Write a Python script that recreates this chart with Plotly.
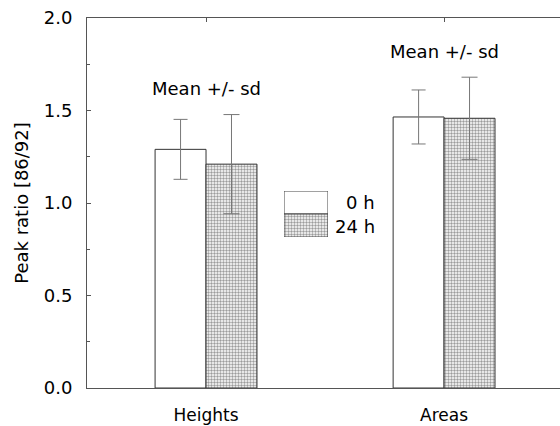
import plotly.graph_objects as go

categories = ["Heights", "Areas"]
mean_0h = [1.29, 1.465]
sd_0h = [0.162, 0.146]
mean_24h = [1.21, 1.458]
sd_24h = [0.268, 0.222]
series_names = ["0 h", "24 h"]
yticks = [0.0, 0.5, 1.0, 1.5, 2.0]
note = "Mean +/- sd"

W, H = 560, 426
L, R, T, B = 87, 0, 18, 38
FONT = "DejaVu Sans"
LINE = "#555555"
PATTERN = dict(shape=".", size=3, solidity=0.5, fgcolor="#3a3a3a", bgcolor="white")

fig = go.Figure()
fig.add_trace(go.Bar(
    x=categories, y=mean_0h, name=series_names[0],
    marker=dict(color="white", line=dict(color="#333333", width=1)),
    error_y=dict(type="data", array=sd_0h, color="#777777", thickness=1, width=7),
    showlegend=False,
))
fig.add_trace(go.Bar(
    x=categories, y=mean_24h, name=series_names[1],
    marker=dict(color="white", line=dict(color="#333333", width=1), pattern=PATTERN),
    error_y=dict(type="data", array=sd_24h, color="#777777", thickness=1, width=8),
    showlegend=False,
))
# dummy trace for top axis
fig.add_trace(go.Scatter(x=categories, y=[None, None], xaxis="x2", showlegend=False, hoverinfo="skip"))

pw = W - L - R
ph = H - T - B

def px_x(px):
    return (px - L) / pw

def px_y(py):
    return (H - B - py) / ph

# legend swatches drawn on their own small axes (one trace, two stacked boxes)
fig.add_trace(go.Bar(x=[0, 0], y=[1, 1], base=[1, 0], width=[1, 1], offset=[-0.5, -0.5],
                     xaxis="x3", yaxis="y3", cliponaxis=False,
                     marker=dict(color="white", line=dict(color="#444444", width=1),
                                 pattern=dict(shape=["", "."], size=3, solidity=0.5,
                                              fgcolor="#3a3a3a", bgcolor="white")),
                     showlegend=False, hoverinfo="skip"))
fig.add_annotation(xref="paper", yref="paper", x=px_x(344), y=px_y(202.5), text=series_names[0],
                   showarrow=False, xanchor="left", yanchor="middle", font=dict(size=18, family=FONT, color="black"))
fig.add_annotation(xref="paper", yref="paper", x=px_x(333), y=px_y(226), text=series_names[1],
                   showarrow=False, xanchor="left", yanchor="middle", font=dict(size=18, family=FONT, color="black"))

top_vals = [max(a + b, c + d) for a, b, c, d in zip(mean_0h, sd_0h, mean_24h, sd_24h)]
for cat, tv in zip(categories, top_vals):
    fig.add_annotation(x=cat, y=tv, yshift=26, text=note, showarrow=False,
                       xanchor="center", yanchor="middle",
                       font=dict(size=18, family=FONT, color="black"))

fig.update_layout(
    width=W, height=H,
    margin=dict(l=L, r=R, t=T, b=B, autoexpand=False),
    paper_bgcolor="white", plot_bgcolor="white",
    barmode="group", bargap=0.572, bargroupgap=0,
    font=dict(family=FONT, size=16, color="black"),
    xaxis=dict(type="category", range=[-0.5, 1.487], showline=True, linecolor=LINE, linewidth=1,
               ticks="", showgrid=False, ticklabelstandoff=12, tickfont=dict(size=17), automargin=False),
    xaxis2=dict(type="category", range=[-0.5, 1.487], overlaying="x", side="top", matches="x",
                showline=True, linecolor=LINE, linewidth=1, ticks="inside", ticklen=4,
                tickcolor=LINE, showticklabels=False, showgrid=False, automargin=False),
    yaxis=dict(range=[0, 2.0], tickvals=yticks, ticktext=[f"{v:.1f}" for v in yticks],
               showline=True, linecolor=LINE, linewidth=1, ticks="inside", ticklen=4,
               tickcolor=LINE, showgrid=False, zeroline=False, ticklabelstandoff=10,
               tickfont=dict(size=18), automargin=False,
               minor=dict(dtick=0.25, ticks="inside", ticklen=3, tickcolor=LINE),
               title=dict(text="Peak ratio [86/92]", font=dict(size=18), standoff=10)),
    xaxis3=dict(domain=[px_x(284), px_x(328)], range=[-0.5, 0.5], visible=False, fixedrange=True, anchor="y3"),
    yaxis3=dict(domain=[px_y(237), px_y(191)], range=[0, 2], visible=False, fixedrange=True, anchor="x3"),
)

fig.write_html("out.html", config={"displayModeBar": False},
               post_script="document.body.style.margin='0';document.body.style.overflow='hidden';")
